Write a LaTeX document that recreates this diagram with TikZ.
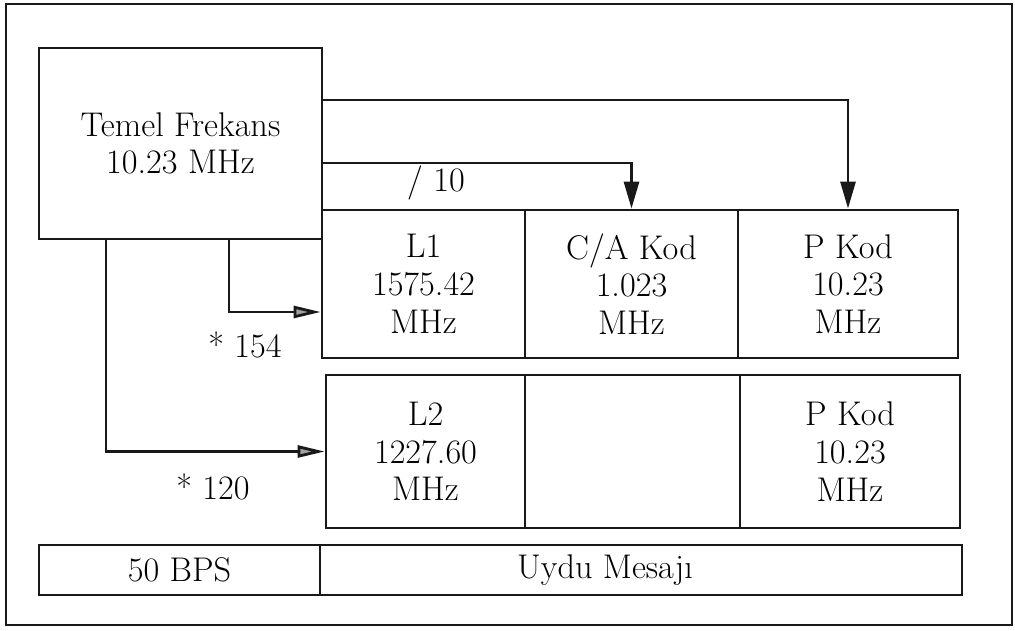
\documentclass[tikz,border=0pt]{standalone}
\usetikzlibrary{arrows.meta, positioning, calc}
\usepackage{xcolor}
\definecolor{DG}{RGB}{25,25,25}

\tikzset{
  blok/.style={draw=DG, line width=1.6pt, inner sep=0pt, align=center,
    font=\fontsize{19.5}{21.5}\selectfont},
  etiket/.style={font=\fontsize{19.5}{21.5}\selectfont, inner sep=1pt},
  ok/.style={DG, line width=1.6pt,
    -{Triangle[length=0.54cm, width=0.3cm, fill=DG]}},
  okgri/.style={DG, line width=1.6pt,
    -{Triangle[length=0.54cm, width=0.24cm, fill=gray!75]}}
}

\begin{document}
\begin{tikzpicture}[x=0.02cm, y=-0.02cm]
\useasboundingbox (0,0) rectangle (1015,631);
\draw[DG, line width=1.6pt] (6,4) rectangle (1012,625);

\node[blok, minimum width=5.66cm, minimum height=3.82cm] (temel) at (180.5,143.5)
  {Temel Frekans\\10.23 MHz};

\node[blok, minimum width=4.06cm, minimum height=2.96cm] (l1)  at (423.5,284) {L1\\1575.42\\MHz};
\node[blok, minimum width=4.26cm, minimum height=2.96cm] (ca)  at (631.5,284) {C/A Kod\\1.023\\MHz};
\node[blok, minimum width=4.40cm, minimum height=2.96cm] (pk1) at (848,284)   {P Kod\\10.23\\MHz};

\node[blok, minimum width=3.98cm, minimum height=3.06cm] (l2)  at (425.5,451.5) {L2\\1227.60\\MHz};
\node[blok, minimum width=4.30cm, minimum height=3.06cm] (bos) at (632.5,451.5) {};
\node[blok, minimum width=4.40cm, minimum height=3.06cm] (pk2) at (850,451.5)   {P Kod\\10.23\\MHz};

\node[blok, minimum width=5.62cm, minimum height=1cm] (bps) at (179.5,570) {50 BPS};
\node[blok, minimum width=12.84cm, minimum height=1cm,
  label={[etiket, xshift=-0.72cm]center:Uydu Mesaj\i}] (mesaj) at (641,570) {};

% route points
\coordinate (h1) at (0,100);
\coordinate (h2) at (0,163);
\coordinate (v1) at (229,0);
\coordinate (v2) at (106,0);
\coordinate (h3) at (0,312);

\draw[ok] (temel.east |- h1) -| (pk1.north);
\draw[ok] (temel.east |- h2) -| (ca.north);
\draw[okgri] (temel.south -| v1) |- (l1.west |- h3);
\draw[okgri] (temel.south -| v2) |- (l2.west);

\node[etiket] (bolu) at (436,183) {/ 10};
\node[etiket] (c154) at (245,345) {* 154};
\node[etiket] (c120) at (213,487) {* 120};
\end{tikzpicture}
\end{document}
